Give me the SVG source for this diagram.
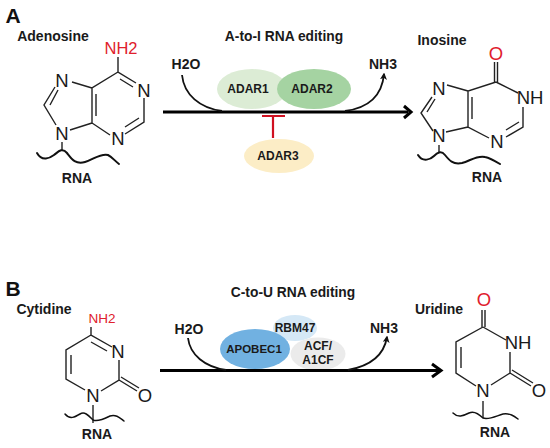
<svg xmlns="http://www.w3.org/2000/svg" width="550" height="448" viewBox="0 0 550 448">
<style>
text{font-family:"Liberation Sans",Arial,sans-serif;text-anchor:middle;fill:#1a1a1a}
.b{font-weight:bold;font-size:14px}
.t{font-weight:bold;font-size:13.800px}
.e{font-weight:bold;font-size:12px}
.p{font-weight:bold;font-size:21px;fill:#111}
.a{font-size:18.500px}
.n{font-size:16.500px}
.r{fill:#e0202c}
.bond{fill:none;stroke:#222;stroke-width:1.4}
.wave{fill:none;stroke:#111;stroke-width:2;stroke-linecap:round}
.main{fill:none;stroke:#000;stroke-width:3}
.cur{fill:none;stroke:#111;stroke-width:1.8}
</style>
<defs>
<marker id="tip" viewBox="0 0 10 10" refX="8" refY="5" markerWidth="7" markerHeight="7" markerUnits="userSpaceOnUse" orient="auto"><path d="M0 0L10 5L0 10L2.500 5Z" fill="#111"/></marker>
</defs>
<text class="p" x="13" y="23">A</text>
<text class="p" x="13" y="296">B</text>

<g id="adenosine">
<text class="b" x="53" y="41">Adenosine</text>
<text class="n r" x="121" y="54">NH2</text>
<path class="bond" d="M118 57V72L136 83M144 98V122L125 134M110 135L92 123V88L118 72M96 116V94M120 79L133 87M125 127L139 118M92 88L72 82M55 87L44 105L56 125M58 90L50 105M70 130L92 123M62 142V150"/>
<text class="a" x="62" y="87">N</text><text class="a" x="144" y="97">N</text><text class="a" x="118" y="145">N</text><text class="a" x="62" y="140">N</text>
<path class="wave" d="M37 153C42 162 50 158 54 155C58 152 62 147 67 153C71 158 75 165 85 162C93 160 100 153 108 155C112 157 115 161 119 164"/>
<text class="b" x="77" y="183">RNA</text>
</g>

<g id="inosine">
<text class="b" x="442" y="45">Inosine</text>
<text class="a r" x="496" y="60">O</text>
<path class="bond" d="M494.500 62V82M497.500 62V82M496 82L518 93M523 107V127L506 137M489 138L468 127V91L496 82M472 119V97M506 130L519 122M468 91L447 85M432 97L421 113L433 131M435 99L427 112M446 132L468 127M439 145V153"/>
<text class="a" x="439" y="95">N</text><text class="a" x="530" y="104">NH</text><text class="a" x="497" y="148">N</text><text class="a" x="439" y="142">N</text>
<path class="wave" d="M418 155C423 163 431 159 434 156C437 153 441 150 445 155C449 160 453 165 462 163C470 161 477 155 485 157C490 158 495 161 500 164"/>
<text class="b" x="487" y="182">RNA</text>
</g>

<g id="cytidine">
<text class="b" x="44" y="314">Cytidine</text>
<text class="n r" style="font-size:13.500px" x="102" y="323">NH2</text>
<path class="bond" d="M91 327V335L112 347M119 360V380L101 391M85 390L66 379V350L91 335M71 374V355M91 342L107 351M119 380L137 391M121 377L139 388M93 405V423"/>
<text class="a" x="118" y="358">N</text><text class="a" x="93" y="402">N</text><text class="a" x="145" y="402">O</text>
<path class="wave" style="stroke-width:1.500px" d="M65 414C70 420 75 417 80 414C85 411 89 416 93 420C97 422 104 419 110 416C116 414 120 418 124 421"/>
<text class="b" x="97" y="439">RNA</text>
</g>

<g id="uridine">
<text class="b" x="439" y="314">Uridine</text>
<text class="a r" x="484" y="306">O</text>
<path class="bond" d="M482 310V327M485 310V327M483 327L506 340M510 352V373L491 385M476 386L456 373V342L483 327M461 368V347M510 373L531 386M512 370L533 383M483 401V418"/>
<text class="a" x="518" y="349">NH</text><text class="a" x="483" y="397">N</text><text class="a" x="539" y="397">O</text>
<path class="wave" style="stroke-width:1.500px" d="M453 413C458 418 463 416 469 413C475 410 480 415 483 418C489 420 496 416 503 414C510 413 514 416 518 419"/>
<text class="b" x="495" y="437">RNA</text>
</g>

<g id="adar1"><ellipse cx="252" cy="89" rx="35" ry="20" fill="#dcecd5"/><text class="e" x="248" y="93">ADAR1</text></g>
<g id="adar2"><ellipse cx="314" cy="89" rx="37" ry="20" fill="#a5d3a2"/><text class="e" x="312" y="93">ADAR2</text></g>
<g id="adar3"><ellipse cx="279" cy="156" rx="35" ry="17" fill="#fcedc6"/><text class="e" x="278" y="160">ADAR3</text></g>

<g id="rbm47"><ellipse cx="295" cy="328" rx="22" ry="13" fill="#d5e8f6"/><text class="e" x="295" y="332">RBM47</text></g>
<g id="acf"><ellipse cx="318" cy="354" rx="27.500" ry="16.500" fill="#ebebeb"/><text class="e" x="318" y="350">ACF/</text><text class="e" x="318" y="364">A1CF</text></g>
<g id="apobec1"><ellipse cx="255" cy="349" rx="35" ry="20" fill="#71b1e1"/><text class="e" style="font-size:11.500px" x="254" y="353">APOBEC1</text></g>

<g id="connectors">
<path class="main" d="M163 112H408"/>
<path class="main" d="M404 106L411 112L404 118"/>
<path class="main" d="M160 370.500H440"/>
<path class="main" d="M432 364L441 370.500L432 377"/>
<path class="cur" d="M182 75C184 95 200 108 222 111"/>
<path class="cur" marker-end="url(#tip)" d="M345 111C368 108 382 96 384 74"/>
<path class="cur" d="M188 338C190 355 205 367 226 370"/>
<path class="cur" marker-end="url(#tip)" d="M348 370C370 366 384 355 387 337"/>
<path d="M262 116H285M273 116V138" fill="none" stroke="#d01020" stroke-width="2.200"/>
</g>

<text class="t" x="284" y="41">A-to-I RNA editing</text>
<text class="t" x="293" y="297">C-to-U RNA editing</text>
<text class="b" x="186" y="69">H2O</text>
<text class="b" x="383" y="69">NH3</text>
<text class="b" x="189" y="334">H2O</text>
<text class="b" x="384" y="333">NH3</text>
</svg>
